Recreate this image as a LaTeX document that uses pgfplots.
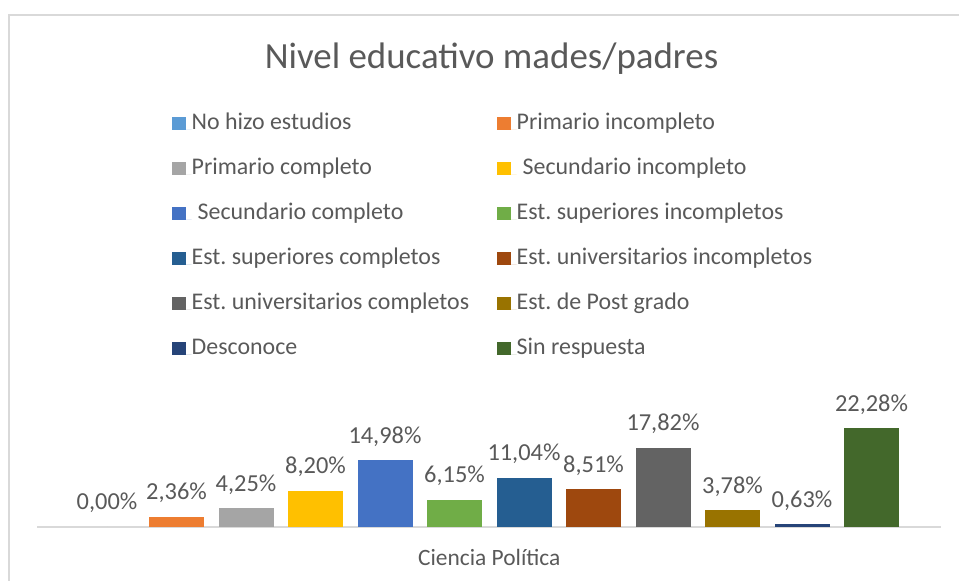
\documentclass[border=0pt]{standalone}
\usepackage{fontspec}
\setmainfont{Carlito}
\usepackage{pgfplots}
\pgfplotsset{compat=1.18}
\frenchspacing
\definecolor{txt}{HTML}{595959}
\definecolor{bord}{HTML}{D9D9D9}
\definecolor{c1}{HTML}{5B9BD5}
\definecolor{c2}{HTML}{ED7D31}
\definecolor{c3}{HTML}{A5A5A5}
\definecolor{c4}{HTML}{FFC000}
\definecolor{c5}{HTML}{4472C4}
\definecolor{c6}{HTML}{70AD47}
\definecolor{c7}{HTML}{255E91}
\definecolor{c8}{HTML}{9E480E}
\definecolor{c9}{HTML}{636363}
\definecolor{c10}{HTML}{997300}
\definecolor{c11}{HTML}{264478}
\definecolor{c12}{HTML}{43682B}
\newcommand{\cola}[1]{\makebox[305.3pt][l]{#1}}
\begin{document}
\frenchspacing
\begin{tikzpicture}[x=1pt,y=1pt]
\useasboundingbox (0,0) rectangle (959,581);
\draw[color=bord, line width=1.5pt] (9,-20) -- (9,566) -- (990,566);
\begin{axis}[
  at={(37.5pt,54pt)}, anchor=south west, scale only axis,
  width=903.5pt, height=111pt,
  xmin=-1, xmax=12, ymin=0, ymax=25,
  hide y axis,
  axis x line*=bottom,
  x axis line style={draw=bord, line width=1.5pt, -},
  xtick=\empty, ytick=\empty,
  ybar, bar width=55pt, bar shift=0pt,
  clip=false,
  nodes near coords={\pgfmathprintnumber[fixed,fixed zerofill,precision=2,use comma,assume math mode=true]{\pgfplotspointmeta}\%},
  every node near coord/.append style={anchor=base, yshift=17pt, inner sep=0pt, text=txt, font=\fontsize{24.4}{29}\selectfont},
  title={Nivel educativo mades/padres},
  title style={at={(axis description cs:0.5,0)}, anchor=base, yshift=452pt, xshift=2.25pt, font=\fontsize{36.9}{44}\selectfont, text=txt, inner sep=0pt},
  xlabel={Ciencia Política},
  xlabel style={at={(axis description cs:0.5,0)}, anchor=base, yshift=-39pt, font=\fontsize{23.4}{28}\selectfont, text=txt, inner sep=0pt},
  legend columns=2,
  legend cell align=left,
  legend style={at={(axis description cs:0.14887,3.7613)}, anchor=north west, draw=none, fill=none, inner sep=0pt, outer sep=0pt, row sep=0pt, column sep=0pt, font=\fontsize{23.9}{28}\selectfont\frenchspacing, text=txt, nodes={inner sep=0pt, text height=20pt, text depth=25pt}, cells={anchor=base west}},
  legend image code/.code={\fill[#1,draw=none] (0pt,-0.5pt) rectangle (14pt,12.5pt); \path (0pt,0pt) -- (19.7pt,0pt);},
]
\addplot[fill=c1, draw=none, bar width=0pt] coordinates {(0,0.00)};
\addlegendentry{\cola{No hizo estudios}}
\addplot[fill=c2, draw=none] coordinates {(1,2.36)};
\addlegendentry{Primario incompleto}
\addplot[fill=c3, draw=none] coordinates {(2,4.25)};
\addlegendentry{\cola{Primario completo}}
\addplot[fill=c4, draw=none] coordinates {(3,8.20)};
\addlegendentry{\hspace*{6pt}Secundario incompleto}
\addplot[fill=c5, draw=none] coordinates {(4,14.98)};
\addlegendentry{\cola{\hspace*{6pt}Secundario completo}}
\addplot[fill=c6, draw=none] coordinates {(5,6.15)};
\addlegendentry{Est. superiores incompletos}
\addplot[fill=c7, draw=none] coordinates {(6,11.04)};
\addlegendentry{\cola{Est. superiores completos}}
\addplot[fill=c8, draw=none] coordinates {(7,8.51)};
\addlegendentry{Est. universitarios incompletos}
\addplot[fill=c9, draw=none] coordinates {(8,17.82)};
\addlegendentry{\cola{Est. universitarios completos}}
\addplot[fill=c10, draw=none] coordinates {(9,3.78)};
\addlegendentry{Est. de Post grado}
\addplot[fill=c11, draw=none] coordinates {(10,0.63)};
\addlegendentry{\cola{Desconoce}}
\addplot[fill=c12, draw=none] coordinates {(11,22.28)};
\addlegendentry{Sin respuesta}
\end{axis}
\end{tikzpicture}
\end{document}
